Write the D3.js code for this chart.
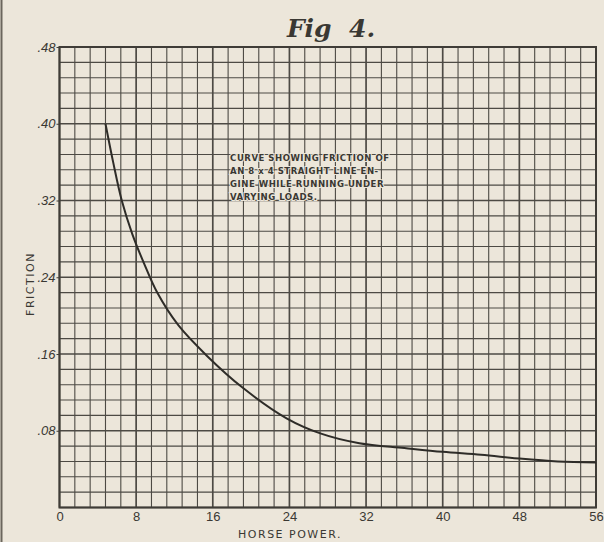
<!DOCTYPE html>
<html>
<head>
<meta charset="utf-8">
<script src="https://cdn.jsdelivr.net/npm/d3@7"></script>
<style>
  html, body { margin: 0; padding: 0; background: #ece6da; }
  #chart { width: 604px; height: 542px; }
  text { fill: #3a3833; }
</style>
</head>
<body>
<div id="chart"></div>
<script>
// curve
const horsePower = [4.8, 5.6, 6.5, 7.6, 8.8, 10.2, 12.4, 15.4, 19.1, 23.7, 27.3, 31.3, 36, 40, 44, 48, 52, 56];
const friction   = [0.40, 0.36, 0.32, 0.285, 0.255, 0.224, 0.19, 0.158, 0.125, 0.093, 0.077, 0.067, 0.062, 0.058, 0.055, 0.051, 0.048, 0.047];

const xTicks = [0, 8, 16, 24, 32, 40, 48, 56];
const yTicks = [0.08, 0.16, 0.24, 0.32, 0.40, 0.48];
const yTickLabels = [".08", ".16", ".24", ".32", ".40", ".48"];
const noteLines = [
    "CURVE SHOWING FRICTION OF",
    "AN 8 x 4 STRAIGHT LINE EN-",
    "GINE WHILE RUNNING UNDER",
    "VARYING LOADS."
];

const margin = {top: 47, right: 8, bottom: 34.5, left: 59.5};
const width = 604 - margin.left - margin.right;
const height = 542 - margin.top - margin.bottom;

const svg = d3.select("#chart").append("svg")
    .attr("width", 604)
    .attr("height", 542);

// paper edge on the left
svg.append("line")
    .attr("x1", 1.5).attr("x2", 1.5)
    .attr("y1", 0).attr("y2", 542)
    .attr("stroke", "#6b665d")
    .attr("stroke-width", 2);

svg.append("text")
    .attr("x", 331)
    .attr("y", 37)
    .attr("text-anchor", "middle")
    .style("font-family", "'DejaVu Serif', serif")
    .style("font-style", "italic")
    .style("font-weight", "bold")
    .style("font-size", "25px")
    .attr("xml:space", "preserve")
    .text("Fig  4.");

const g = svg.append("g")
    .attr("transform", `translate(${margin.left},${margin.top})`);

const x = d3.scaleLinear().domain([0, 56]).range([0, width]);
const y = d3.scaleLinear().domain([0, 0.48]).range([height, 0]);

// grid: 35 columns of 1.6 HP, 30 rows of .016
const xGrid = d3.range(0, 36).map(i => i * 1.6);
const yGrid = d3.range(0, 31).map(i => i * 0.016);

g.append("g").selectAll("line")
    .data(xGrid)
    .join("line")
    .attr("x1", d => x(d)).attr("x2", d => x(d))
    .attr("y1", 0).attr("y2", height)
    .attr("stroke", "#4d4a44")
    .attr("stroke-width", (d, i) => i % 5 === 0 ? 1.7 : 1.1);

g.append("g").selectAll("line")
    .data(yGrid)
    .join("line")
    .attr("x1", 0).attr("x2", width)
    .attr("y1", d => y(d)).attr("y2", d => y(d))
    .attr("stroke", "#4d4a44")
    .attr("stroke-width", (d, i) => i % 5 === 0 ? 1.7 : 1.1);

// outer frame
g.append("rect")
    .attr("width", width)
    .attr("height", height)
    .attr("fill", "none")
    .attr("stroke", "#3f3c37")
    .attr("stroke-width", 2);

// axes labels
const xAxis = d3.axisBottom(x).tickValues(xTicks).tickSize(0).tickPadding(4);
g.append("g")
    .attr("transform", `translate(0,${height})`)
    .call(xAxis)
    .call(a => a.select(".domain").remove())
    .selectAll("text")
    .style("font-family", "'Liberation Sans', Arial, sans-serif")
    .style("font-size", "13px")
    .attr("fill", "#3a3833");

const yAxis = d3.axisLeft(y).tickValues(yTicks)
    .tickFormat((d, i) => yTickLabels[i]).tickSize(3).tickPadding(1);
g.append("g")
    .call(yAxis)
    .call(a => a.select(".domain").remove())
    .call(a => a.selectAll("line").attr("stroke", "#3f3c37"))
    .selectAll("text")
    .style("font-family", "'Liberation Sans', Arial, sans-serif")
    .style("font-style", "italic")
    .style("font-size", "13px")
    .attr("fill", "#3a3833");

svg.append("text")
    .attr("x", 290)
    .attr("y", 538)
    .attr("text-anchor", "middle")
    .style("font-family", "'DejaVu Sans', sans-serif")
    .style("font-size", "11px")
    .style("letter-spacing", "1.5px")
    .text("HORSE POWER.");

svg.append("text")
    .attr("transform", "translate(34,284) rotate(-90)")
    .attr("text-anchor", "middle")
    .style("font-family", "'DejaVu Sans', sans-serif")
    .style("font-size", "11px")
    .style("letter-spacing", "1.5px")
    .text("FRICTION");

// note in the upper part of the grid
g.append("g").selectAll("text")
    .data(noteLines)
    .join("text")
    .attr("x", x(17.6) + 2)
    .attr("y", (d, i) => y(0.368) + 7 + 13 * i)
    .style("font-family", "'DejaVu Sans Condensed', 'DejaVu Sans', sans-serif")
    .style("font-weight", "bold")
    .style("font-size", "9.5px")
    .style("letter-spacing", "0.5px")
    .attr("stroke", "#ece6da")
    .attr("stroke-width", 2)
    .attr("paint-order", "stroke")
    .text(d => d);

const line = d3.line()
    .x(d => x(d[0]))
    .y(d => y(d[1]))
    .curve(d3.curveCatmullRom.alpha(0.5));

g.append("path")
    .datum(horsePower.map((h, i) => [h, friction[i]]))
    .attr("d", line)
    .attr("fill", "none")
    .attr("stroke", "#2e2c28")
    .attr("stroke-width", 2);
</script>
</body>
</html>
